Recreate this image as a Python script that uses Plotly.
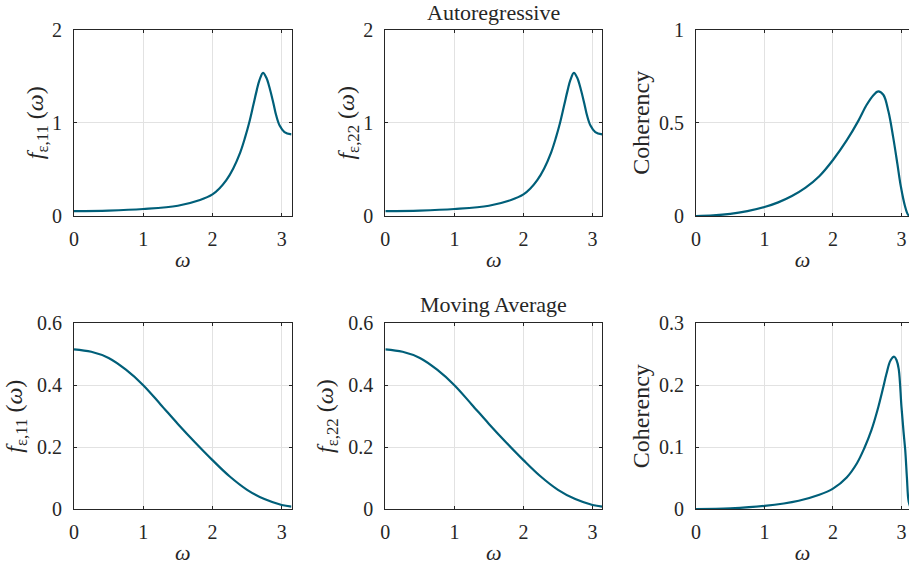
import plotly.graph_objects as go
import math

# ---------------- data ----------------
# Autoregressive spectra (f_{e,11} and f_{e,22} look identical)
w_ar_f = [0, 0.5, 1.0, 1.5, 1.82, 2.0, 2.1, 2.2, 2.3, 2.4, 2.47, 2.53, 2.59, 2.64,
          2.68, 2.73, 2.78, 2.83, 2.88, 2.92, 2.97, 3.04, 3.1416]
f11_ar = [0.052, 0.058, 0.075, 0.11, 0.171, 0.231, 0.295, 0.384, 0.51, 0.68, 0.84, 1.0,
          1.19, 1.35, 1.46, 1.535, 1.48, 1.36, 1.21, 1.08, 0.97, 0.90, 0.875]
f22_ar = [0.052, 0.058, 0.075, 0.11, 0.171, 0.231, 0.295, 0.384, 0.51, 0.68, 0.84, 1.0,
          1.19, 1.35, 1.46, 1.535, 1.48, 1.36, 1.21, 1.08, 0.97, 0.90, 0.875]

w_ar_c = [0, 0.25, 0.5, 0.75, 1.0, 1.2, 1.4, 1.6, 1.8, 2.0, 2.2, 2.37, 2.49, 2.59,
          2.66, 2.735, 2.81, 2.88, 2.94, 2.99, 3.05, 3.1, 3.1416]
coh_ar = [0, 0.003, 0.011, 0.026, 0.048, 0.073, 0.107, 0.152, 0.213, 0.300, 0.405, 0.51,
          0.595, 0.648, 0.668, 0.65, 0.56, 0.42, 0.28, 0.16, 0.055, 0.005, 0]

# Moving-average spectra
w_ma_f = [0, 0.25, 0.5, 0.75, 1.0, 1.25, 1.5, 1.75, 2.0, 2.25, 2.5, 2.75, 3.0, 3.1416]
f11_ma = [0.516, 0.508, 0.488, 0.450, 0.400, 0.338, 0.275, 0.215, 0.158, 0.105, 0.062,
          0.032, 0.013, 0.008]
f22_ma = [0.516, 0.508, 0.488, 0.450, 0.400, 0.338, 0.275, 0.215, 0.158, 0.105, 0.062,
          0.032, 0.013, 0.008]

w_ma_c = [0, 0.5, 1.0, 1.5, 1.8, 2.0, 2.2, 2.35, 2.46, 2.56, 2.65, 2.73, 2.78, 2.84,
          2.895, 2.93, 2.96, 3.0, 3.03, 3.055, 3.08, 3.105, 3.1416]
coh_ma = [0, 0.001, 0.005, 0.0134, 0.023, 0.033, 0.051, 0.074, 0.099, 0.127, 0.16, 0.195,
          0.218, 0.240, 0.246, 0.24, 0.226, 0.165, 0.125, 0.095, 0.05, 0.012, 0]

# tick labels
x_ticks = [0, 1, 2, 3]
y_ticks_ar_f = [0, 1, 2]
y_ticks_ar_c = [0, 0.5, 1]
y_ticks_ma_f = [0, 0.2, 0.4, 0.6]
y_ticks_ma_c = [0, 0.1, 0.2, 0.3]

titles = ["Autoregressive", "Moving Average"]
ylabels = ["<i>f</i><sub>ε,11</sub> (<i>ω</i>)", "<i>f</i><sub>ε,22</sub> (<i>ω</i>)", "Coherency"]
xlabel = "<i>ω</i>"

# ---------------- style ----------------
LINE = "#005f79"
AX = "#262626"
GRID = "#e2e2e2"
FONT = "Liberation Serif, DejaVu Serif, serif"

col_dom = [[0.0814, 0.3207], [0.4239, 0.6626], [0.7657, 1.0]]
col_range = [[0, math.pi], [0, math.pi], [0, 3.11]]
row_dom = [[0.6224, 0.9484], [0.1101, 0.4348]]
title_y = [0.9773, 0.4668]
# y-title standoff per [row][col]
y_standoff = [[0, 0, 2], [7, 7, 2]]

panels = [
    (w_ar_f, f11_ar, [0, 2], y_ticks_ar_f, 0, 0),
    (w_ar_f, f22_ar, [0, 2], y_ticks_ar_f, 0, 1),
    (w_ar_c, coh_ar, [0, 1], y_ticks_ar_c, 0, 2),
    (w_ma_f, f11_ma, [0, 0.6], y_ticks_ma_f, 1, 0),
    (w_ma_f, f22_ma, [0, 0.6], y_ticks_ma_f, 1, 1),
    (w_ma_c, coh_ma, [0, 0.3], y_ticks_ma_c, 1, 2),
]

fig = go.Figure()
layout = dict(
    width=909, height=572,
    margin=dict(l=0, r=0, t=0, b=0, autoexpand=False),
    paper_bgcolor="white", plot_bgcolor="white",
    showlegend=False,
    font=dict(family=FONT, color=AX, size=20),
)

for i, (xs, ys, yr, yt, r, c) in enumerate(panels):
    n = i + 1
    xa = "x" if n == 1 else f"x{n}"
    ya = "y" if n == 1 else f"y{n}"
    fig.add_trace(go.Scatter(x=xs, y=ys, mode="lines", xaxis=xa, yaxis=ya,
                             line=dict(color=LINE, width=2.2, shape="spline", smoothing=1.0),
                             hoverinfo="skip"))
    common = dict(showline=True, linecolor=AX, linewidth=1, ticks="inside", ticklen=3,
                  tickcolor=AX, tickwidth=1, showgrid=True, gridcolor=GRID, gridwidth=1,
                  zeroline=False, automargin=False,
                  tickfont=dict(family=FONT, size=20, color=AX))
    layout["xaxis" if n == 1 else f"xaxis{n}"] = dict(
        common, domain=col_dom[c], anchor=ya, range=col_range[c], tickvals=x_ticks,
        ticktext=[str(t) for t in x_ticks], ticklabelstandoff=5, mirror="ticks",
        title=dict(text=xlabel, font=dict(family=FONT, size=22, color=AX), standoff=2))
    layout["yaxis" if n == 1 else f"yaxis{n}"] = dict(
        common, domain=row_dom[r], anchor=xa, range=yr, tickvals=yt,
        ticktext=[("%g" % t) for t in yt], ticklabelstandoff=7,
        mirror="ticks" if c < 2 else False,
        title=dict(text=ylabels[c], font=dict(family=FONT, size=24, color=AX),
                   standoff=y_standoff[r][c]))

fig.update_layout(**layout)

for k, t in enumerate(titles):
    fig.add_annotation(text=t, xref="paper", yref="paper",
                       x=sum(col_dom[1]) / 2, y=title_y[k], xanchor="center",
                       yanchor="middle", showarrow=False,
                       font=dict(family=FONT, size=22, color=AX))

fig.write_html("out.html",
               config={"displayModeBar": False},
               post_script="document.body.style.margin='0';"
                           "document.body.style.overflow='hidden';")
